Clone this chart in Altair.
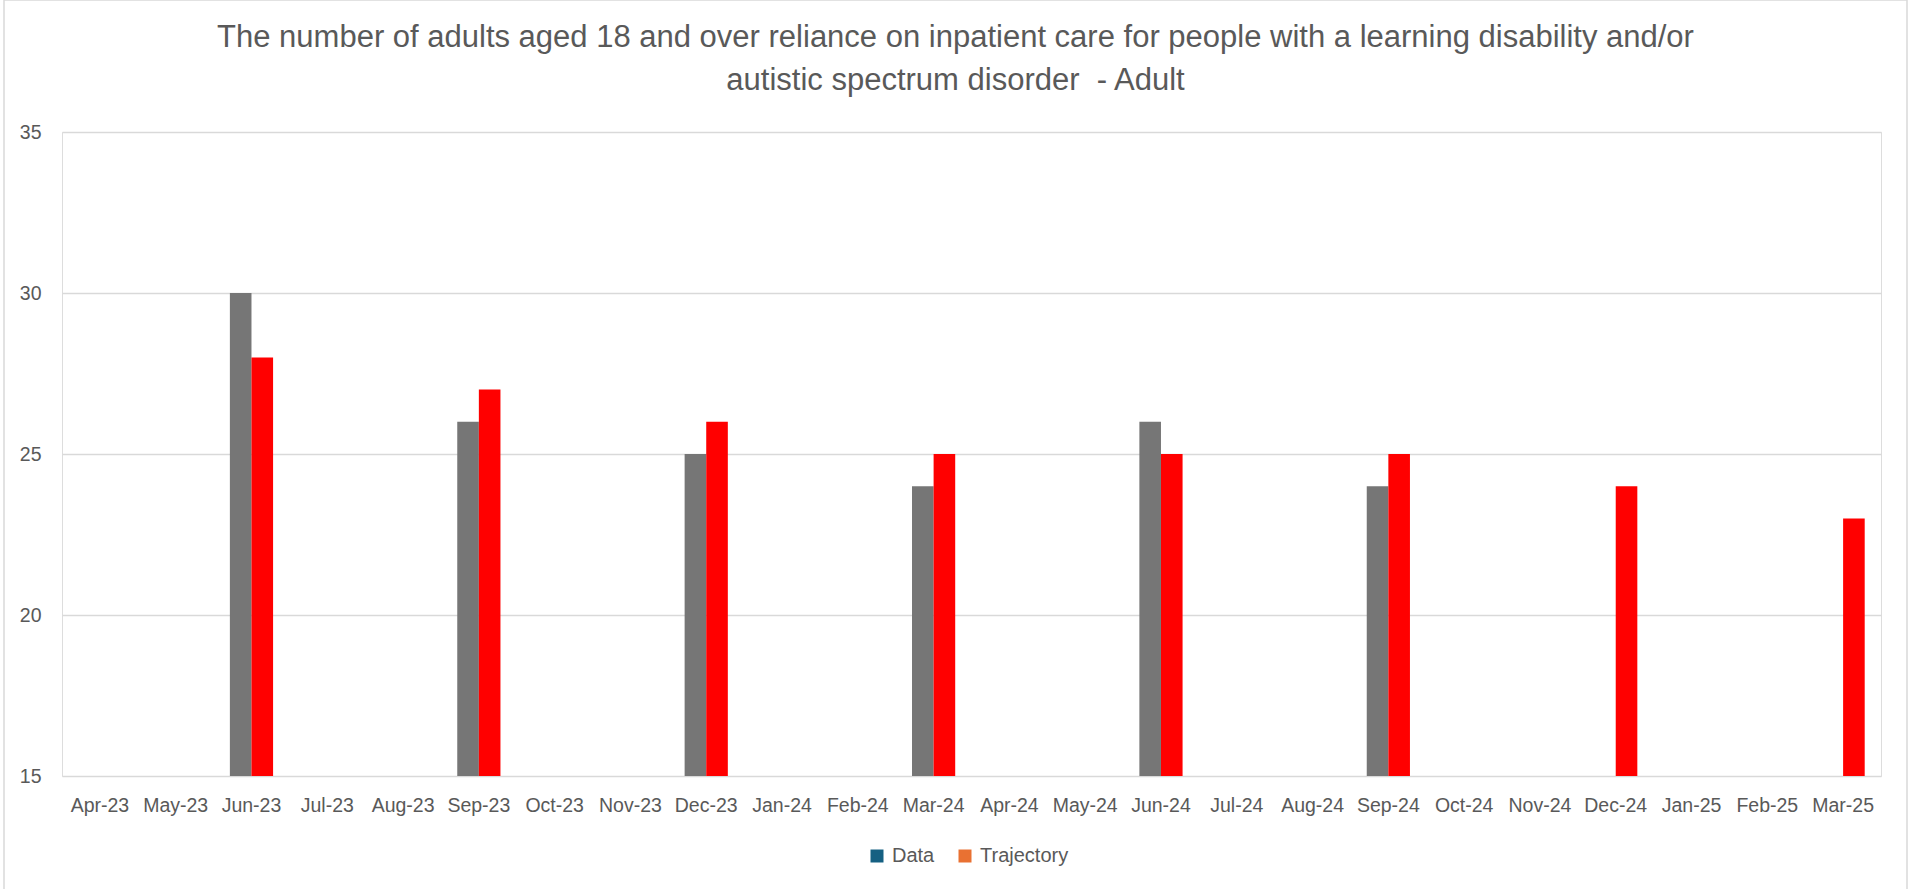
import altair as alt
import pandas as pd

# Month categories along the x axis
months = [
    "Apr-23", "May-23", "Jun-23", "Jul-23", "Aug-23", "Sep-23",
    "Oct-23", "Nov-23", "Dec-23", "Jan-24", "Feb-24", "Mar-24",
    "Apr-24", "May-24", "Jun-24", "Jul-24", "Aug-24", "Sep-24",
    "Oct-24", "Nov-24", "Dec-24", "Jan-25", "Feb-25", "Mar-25",
]

# Quarterly actuals (None where no figure is reported)
data_values = [
    None, None, 30, None, None, 26,
    None, None, 25, None, None, 24,
    None, None, 26, None, None, 24,
    None, None, None, None, None, None,
]

# Planned trajectory
trajectory_values = [
    None, None, 28, None, None, 27,
    None, None, 26, None, None, 25,
    None, None, 25, None, None, 25,
    None, None, 24, None, None, 23,
]

series_names = ["Data", "Trajectory"]
bar_colors = ["#767676", "#FF0000"]
legend_colors = ["#156082", "#E97132"]
y_ticks = [15, 20, 25, 30, 35]

rows = []
for m, d, t in zip(months, data_values, trajectory_values):
    if d is not None:
        rows.append({"month": m, "series": "Data", "value": d})
    if t is not None:
        rows.append({"month": m, "series": "Trajectory", "value": t})
df = pd.DataFrame(rows)

FONT = "Liberation Sans"
TEXT = "#595959"
GRID = "#D9D9D9"

W, H = 1819, 644
PAD_L, PAD_T = 62, 132

x_enc = alt.X(
    "month:N",
    sort=months,
    scale=alt.Scale(domain=months, paddingInner=0.43, paddingOuter=0.215),
    axis=alt.Axis(
        title=None, labelAngle=0, ticks=False, domain=False, grid=False,
        labelFont=FONT, labelFontSize=19.5, labelColor=TEXT, labelPadding=20,
    ),
)

bars = alt.Chart(df).mark_bar(clip=True).encode(
    x=x_enc,
    xOffset=alt.XOffset(
        "series:N",
        scale=alt.Scale(domain=series_names, paddingInner=0, paddingOuter=0),
    ),
    y=alt.Y(
        "value:Q",
        scale=alt.Scale(domain=[15, 35], nice=False, zero=False),
        axis=alt.Axis(
            title=None, values=y_ticks, ticks=False, domain=False,
            grid=True, gridColor=GRID, gridWidth=1.4,
            labelFont=FONT, labelFontSize=19.5, labelColor=TEXT, labelPadding=21,
        ),
    ),
    fill=alt.Fill(
        "series:N",
        scale=alt.Scale(domain=series_names, range=bar_colors),
        legend=None,
    ),
)

# Series key: its own colour scale, marks kept out of view by clipping
key = alt.Chart(pd.DataFrame({"series": series_names})).mark_square(clip=True).encode(
    x=alt.value(-500),
    y=alt.value(-500),
    color=alt.Color(
        "series:N",
        scale=alt.Scale(domain=series_names, range=legend_colors),
        legend=alt.Legend(
            title=None, orient="none", direction="horizontal",
            legendX=805, legendY=714, padding=0,
            symbolType="square", symbolSize=169, symbolStrokeWidth=0,
            symbolOpacity=1,
            labelFont=FONT, labelFontSize=20, labelColor=TEXT,
            labelOffset=5, columnPadding=20,
        ),
    ),
)

# Outer frame around the chart (runs off the bottom edge)
frame = alt.Chart(pd.DataFrame({"k": [0]})).mark_rect(
    fill=None, stroke=GRID, strokeWidth=1.5, clip=False
).encode(
    x=alt.value(4 - PAD_L),
    x2=alt.value(1907 - PAD_L),
    y=alt.value(0 - PAD_T),
    y2=alt.value(900 - PAD_T),
)

chart = alt.layer(bars, key, frame).resolve_scale(
    color="independent", fill="independent"
).properties(
    width=W,
    height=H,
    padding={"left": PAD_L, "top": PAD_T, "right": 1909 - PAD_L - W, "bottom": 889 - PAD_T - H},
    autosize=alt.AutoSizeParams(type="none"),
    title=alt.TitleParams(
        text=[
            "The number of adults aged 18 and over reliance on inpatient care for people with a learning disability and/or",
            "autistic spectrum disorder\u00a0 - Adult",
        ],
        font=FONT, fontSize=31, fontWeight="normal", color=TEXT,
        anchor="middle", frame="group", dx=-16, offset=0, dy=98, lineHeight=43,
    ),
).configure_view(strokeWidth=0, stroke="transparent").configure(background="white")

chart.save("out.html", embed_options={"renderer": "svg", "actions": False})
